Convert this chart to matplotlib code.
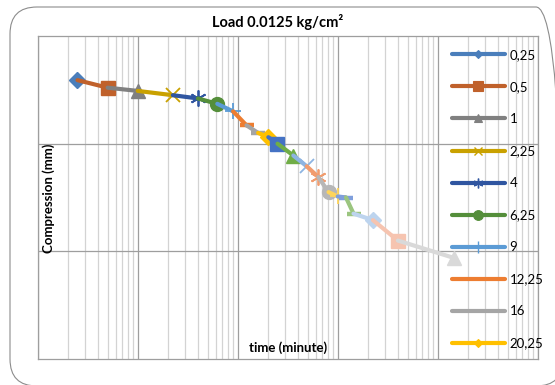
import matplotlib
matplotlib.use('Agg')
import matplotlib.pyplot as plt
from matplotlib.patches import FancyBboxPatch
from matplotlib.lines import Line2D
from matplotlib.ticker import LogLocator, NullFormatter, FixedLocator

plt.rcParams['font.family'] = ['Lato', 'DejaVu Sans']

# ---- data ----
times = [0.25, 0.5, 1, 2.25, 4, 6.25, 9, 12.25, 16, 20.25, 25, 36, 49, 64, 81,
         100, 121, 144, 225, 400, 1440]
labels = ['0,25', '0,5', '1', '2,25', '4', '6,25', '9', '12,25', '16', '20,25',
          '25', '36', '49', '64', '81', '100', '121', '144', '225', '400', '1440']
compression = [0.041, 0.048, 0.051, 0.055, 0.058, 0.063, 0.070, 0.083, 0.090,
               0.094, 0.100, 0.111, 0.121, 0.131, 0.145, 0.149, 0.150, 0.165,
               0.171, 0.190, 0.206]
title = 'Load 0.0125 kg/cm\u00b2'
xlabel = 'time (minute)'
ylabel = 'Compression (mm)'

# ---- styles ----
colors = ['#4A7EBB', '#C0612B', '#808080', '#C9A100', '#2F55A0', '#548E3A',
          '#5B9BD5', '#ED7D31', '#A5A5A5', '#FFC000', '#4472C4', '#70AD47',
          '#8DB4E2', '#F19C6E', '#B7B7B7', '#FFD55A', '#7F9FDC', '#9BC57F',
          '#BDD4EE', '#F6C4B0', '#D9D9D9']
marker_cycle = ['D', 's', '^', 'x', (6, 2, 0), 'o', '+', '_', '_']
plot_ms = {'D': 8, 's': 10.5, '^': 10.5, 'x': 10.5, 'ast': 11.5, 'o': 10, '+': 11, '_': 10}
leg_ms = {'D': 4, 's': 7, '^': 6, 'x': 6, 'ast': 7, 'o': 7, '+': 8, '_': 0.1}
line_mark = {'x', 'ast', '+', '_'}

W, H = 555, 385
fig = plt.figure(figsize=(W / 100, H / 100), dpi=100)

# chart-area rounded border
border = FancyBboxPatch((0.10, -0.01), 5.53, 3.79,
                        boxstyle='round,pad=0,rounding_size=0.27',
                        transform=fig.dpi_scale_trans, fill=False,
                        edgecolor='#8C8C8C', linewidth=0.8)
fig.patches.append(border)

left, right, top, bottom = 37.7, 537.7, 36, 359
ax = fig.add_axes([left / W, 1 - bottom / H, (right - left) / W, (bottom - top) / H])
ax.set_xscale('log')
ax.set_xlim(0.1, 10000)
ax.set_ylim(0.3, 0)
ax.yaxis.set_major_locator(FixedLocator([0.1, 0.2]))
ax.xaxis.set_major_locator(LogLocator(base=10, numticks=20))
ax.xaxis.set_minor_locator(LogLocator(base=10, subs=range(2, 10), numticks=100))
ax.xaxis.set_minor_formatter(NullFormatter())
ax.tick_params(which='both', length=0, labelbottom=False, labelleft=False)
ax.grid(which='major', axis='both', color='#9E9E9E', linewidth=0.9)
ax.grid(which='minor', axis='x', color='#D3D3D3', linewidth=0.9)
ax.set_axisbelow(True)
for s in ax.spines.values():
    s.set_color('#9E9E9E')
    s.set_linewidth(0.9)


def mstyle(i):
    m = marker_cycle[i % len(marker_cycle)]
    key = 'ast' if isinstance(m, tuple) else m
    return m, key


handles = []
for i in range(len(times)):
    m, key = mstyle(i)
    c = colors[i]
    if i == 0:
        xs, ys = [times[0]], [compression[0]]
    else:
        xs, ys = times[i - 1:i + 1], compression[i - 1:i + 1]
    mew = 3.2 if key == '_' else (1.3 if key in line_mark else 1)
    ax.plot(xs, ys, color=c, linewidth=3, solid_capstyle='round',
            marker=m, markevery=[len(xs) - 1], markersize=plot_ms[key],
            markerfacecolor=c, markeredgecolor=c, markeredgewidth=mew,
            zorder=3 + i)
    if i < 10:
        handles.append(Line2D([], [], color=c, linewidth=3, solid_capstyle='round',
                              marker=m, markersize=leg_ms[key], markerfacecolor=c,
                              markeredgecolor=c,
                              markeredgewidth=(1.0 if key in line_mark else 0.8)))

leg = fig.legend(handles, labels[:10], loc='upper left',
                 bbox_to_anchor=(452 / W, 1 - 49 / H), frameon=False,
                 fontsize=9.5, handlelength=4.0, handletextpad=0.35,
                 labelspacing=1.52, borderpad=0, borderaxespad=0)

fig.text(277.5 / W, 1 - 22 / H, title, ha='center', va='center',
         fontsize=10.5, fontweight='bold')
fig.text(288 / W, 1 - 348 / H, xlabel, ha='center', va='center',
         fontsize=9.5, fontweight='bold')
fig.text(49 / W, 1 - 198 / H, ylabel, ha='center', va='center', rotation=90,
         fontsize=9.5, fontweight='bold')

fig.savefig('out.png', dpi=100)
